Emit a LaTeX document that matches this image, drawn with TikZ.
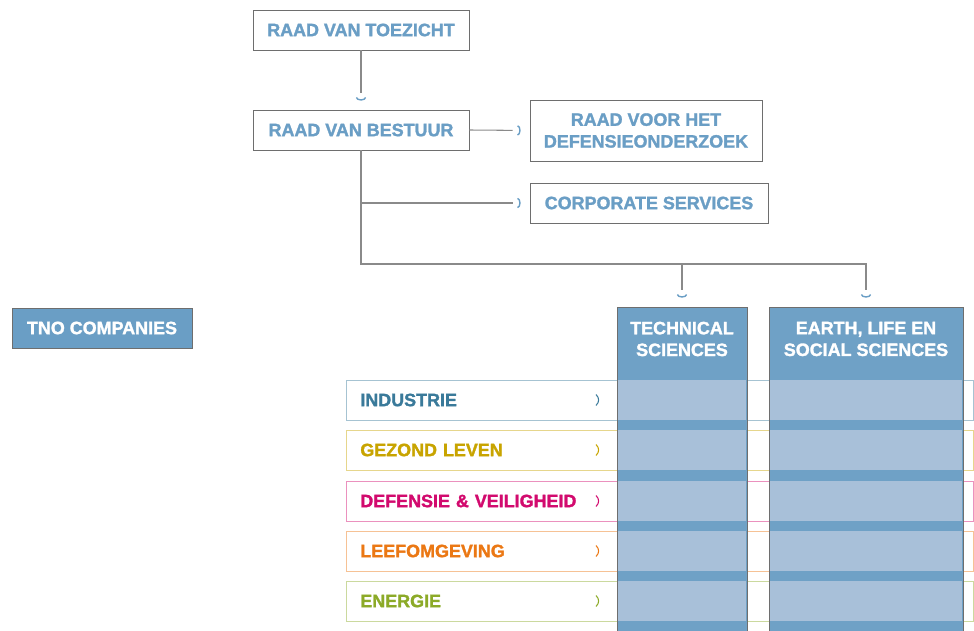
\documentclass[tikz,border=0pt]{standalone}
\usepackage{fontspec}
\setmainfont{Liberation Sans}[BoldFont={Liberation Sans Bold},BoldFeatures={FakeBold=1.6}]
\usetikzlibrary{positioning,arrows.meta}
\definecolor{tnoblue}{HTML}{6A9EC5}
\definecolor{coldark}{HTML}{6FA1C6}
\definecolor{collight}{HTML}{A8C0D9}
\definecolor{boxgray}{HTML}{6E6E6E}
\definecolor{linegray}{HTML}{8A8A8A}
\definecolor{indcol}{HTML}{3A7A9A}
\definecolor{gezcol}{HTML}{C8A400}
\definecolor{defcol}{HTML}{D20A6E}
\definecolor{leefcol}{HTML}{EB7814}
\definecolor{enecol}{HTML}{8CAA28}
\tikzset{box/.style={draw=boxgray,fill=white,text=tnoblue,font=\bfseries\fontsize{10.2}{12.4}\selectfont,align=center,inner sep=0pt,minimum height=0.8cm}}
\tikzset{conn/.style={draw=linegray,line width=0.6pt,shorten >=0.34cm,postaction={draw=tnoblue,shorten >=0.18cm,dash pattern=on 0pt off 2000pt,-{Arc Barb[length=1.8pt,width=6pt,line width=0.8pt]}}}}
\tikzset{rowbox/.style={anchor=west,font=\bfseries\fontsize{10.2}{12.4}\selectfont,minimum width=12.54cm,minimum height=0.8cm,text width=11.98cm,inner xsep=0.28cm,inner ysep=0pt,align=left}}
\tikzset{column/.style={draw=boxgray,fill=coldark,minimum height=6.48cm,inner sep=0pt}}

\begin{document}
\begin{tikzpicture}[x=0.02cm,y=-0.02cm]
\useasboundingbox (0,0) rectangle (974,631);
\node[box,minimum width=4.32cm] (toezicht) at (361,30) {RAAD VAN TOEZICHT};
\node[box,minimum width=4.32cm] (bestuur) at (361,130) {RAAD VAN BESTUUR};
\node[box,minimum width=4.64cm,minimum height=1.22cm] (defonderzoek) at (646,130.5) {RAAD VOOR HET\\DEFENSIEONDERZOEK};
\node[box,minimum width=4.76cm] (corporate) at (649,203) {CORPORATE SERVICES};
\node[box,fill=tnoblue,text=white,minimum width=3.6cm] (companies) at (102,328) {TNO COMPANIES};

\foreach \y/\name/\txt/\col in {400/industrie/INDUSTRIE/indcol,450/gezond/GEZOND LEVEN/gezcol,501/defensie/DEFENSIE \& VEILIGHEID/defcol,551/leef/LEEFOMGEVING/leefcol,601/energie/ENERGIE/enecol}{
\node[rowbox,draw=\col!45,text=\col] (\name) at (346,\y) {\txt};
\draw[\col,line width=0.6pt] (596,\y-5.5) .. controls (599.5,\y-2) and (599.5,\y+2) .. (596,\y+5.5);
}

\node[column,minimum width=2.6cm] (technical) at (682,469) {};
\node[column,minimum width=3.88cm] (earth) at (866,469) {};
\foreach \y in {400,450,501,551,601}{
\fill[collight] (617.6,\y-20) rectangle (746.4,\y+20);
\fill[collight] (769.6,\y-20) rectangle (962.4,\y+20);
}
\node[box,draw=none,fill=none,text=white] (techhead) at (682,339) {TECHNICAL\\SCIENCES};
\node[box,draw=none,fill=none,text=white] (earthhead) at (866,339) {EARTH, LIFE EN\\SOCIAL SCIENCES};

\coordinate (bend) at (361,264);
\draw[conn] (toezicht.south) -- (bestuur.north);
\draw[conn] (bestuur.east) -- (defonderzoek.west);
\draw[conn] (bestuur.south) -- (bend) -| (earth.north);
\draw[conn] (bend -| technical.north) -- (technical.north);
\draw[conn] (bestuur.south |- corporate.west) -- (corporate.west);
\end{tikzpicture}
\end{document}
